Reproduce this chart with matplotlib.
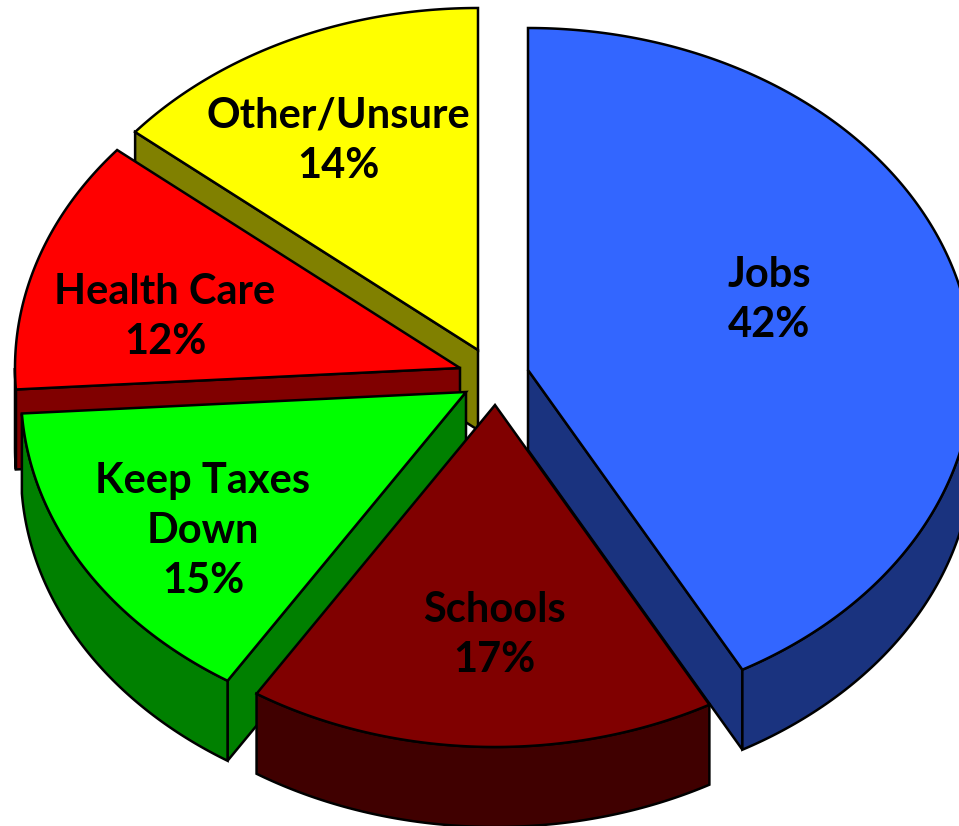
#!/usr/bin/env python3
"""Exploded 3D-look pie chart, drawn with polygons in pixel-sized axes."""

import numpy as np
import matplotlib
matplotlib.use("Agg")
import matplotlib.pyplot as plt
from matplotlib.patches import Polygon

# ---------------------- data ---------------------- #

categories = ["Jobs", "Schools", "Keep Taxes\nDown", "Health Care", "Other/Unsure"]
shares = [42, 17, 15, 12, 14]

# ---------------------- style / layout ---------------------- #

top_colors = ["#3366FF", "#800000", "#00FF00", "#FF0000", "#FFFF00"]
side_colors = ["#1A337F", "#400000", "#008000", "#800000", "#808000"]

RX, RY = 445, 342
DEPTH = 80
CENTRE = (496, 372)
# how far each slice is pulled from the centre, in pixels
explode = [(32, -2), (-1, 33), (-30, 20), (-36, -4), (-18, -22)]
label_pos = [(769, 300), (494, 635), (203, 531), (165, 317), (338, 141)]
# back to front
draw_order = [4, 3, 0, 2, 1]


def rim(apex, t0, t1):
    """Points on the ellipse, angles in degrees clockwise from 12 o'clock."""
    t = np.radians(np.linspace(t0, t1, max(int(abs(t1 - t0)) * 2, 2)))
    return np.column_stack([apex[0] + RX * np.sin(t), apex[1] - RY * np.cos(t)])


def add_poly(ax, pts, color):
    ax.add_patch(Polygon(pts, closed=True, facecolor=color, edgecolor="black",
                         linewidth=1.8, joinstyle="miter"))


def extrude(pts):
    """Wall hanging down from a run of points."""
    shifted = pts + np.array([0, DEPTH])
    return np.vstack([pts, shifted[::-1]])


def draw_slice(ax, i, t0, t1):
    apex = (CENTRE[0] + explode[i][0], CENTRE[1] + explode[i][1])
    apex_pt = np.array([apex])
    arc = rim(apex, t0, t1)

    # a cut face only shows when the slice body lies above it
    if t1 < 180:
        add_poly(ax, extrude(np.vstack([apex_pt, arc[-1:]])), side_colors[i])
    if t0 > 180:
        add_poly(ax, extrude(np.vstack([apex_pt, arc[:1]])), side_colors[i])

    # outer wall, front half of the ellipse only
    w0, w1 = max(t0, 90), min(t1, 270)
    if w1 > w0:
        add_poly(ax, extrude(rim(apex, w0, w1)), side_colors[i])

    add_poly(ax, np.vstack([apex_pt, arc]), top_colors[i])


def main():
    fig = plt.figure(figsize=(9.59, 8.26), dpi=100)
    ax = fig.add_axes([0, 0, 1, 1])
    ax.set_xlim(0, 959)
    ax.set_ylim(826, 0)
    ax.axis("off")

    edges = np.concatenate([[0], np.cumsum(shares)]) / np.sum(shares) * 360
    for i in draw_order:
        draw_slice(ax, i, edges[i], edges[i + 1])

    for name, share, (x, y) in zip(categories, shares, label_pos):
        ax.text(x, y, f"{name}\n{share}%", ha="center", va="center",
                family="Lato", weight="bold", fontsize=30, linespacing=1.39,
                color="black")

    fig.savefig("out.png", dpi=100)


if __name__ == "__main__":
    main()
